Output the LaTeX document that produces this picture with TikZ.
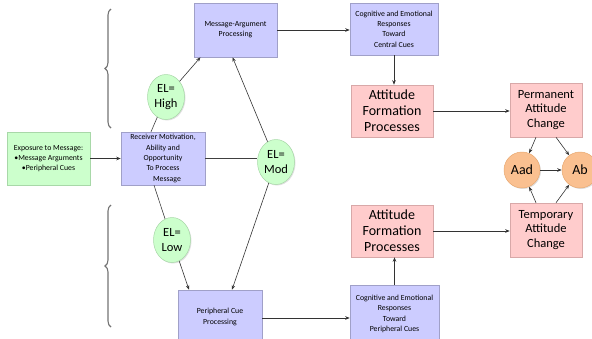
\documentclass[tikz,border=0pt]{standalone}
\usepackage{fontspec}
\setmainfont{Carlito}
\usetikzlibrary{arrows.meta,shapes.geometric,shadows,decorations.pathreplacing}
\definecolor{lav}{HTML}{CCCCFF}
\definecolor{lavline}{HTML}{A0A0C8}
\definecolor{lgreen}{HTML}{CCFFCC}
\definecolor{greenline}{HTML}{A8D8A8}
\definecolor{lpink}{HTML}{FFCCCC}
\definecolor{pinkline}{HTML}{D8A8A8}
\definecolor{lorange}{HTML}{FAC090}
\definecolor{orangeline}{HTML}{E8A870}
\tikzset{
  base/.style={draw, line width=0.5pt, align=center, inner sep=1pt,
    drop shadow={opacity=0.25, shadow xshift=1pt, shadow yshift=-1pt}},
  smallbox/.style={base, fill=lav, draw=lavline, font=\fontsize{7.8}{10.3}\selectfont},
  greenbox/.style={base, fill=lgreen, draw=greenline, font=\fontsize{7.8}{10.3}\selectfont},
  pinkbox/.style={base, fill=lpink, draw=pinkline, font=\fontsize{14}{16}\selectfont},
  pinkbox2/.style={base, fill=lpink, draw=pinkline, font=\fontsize{12.5}{14.5}\selectfont},
  elnode/.style={base, ellipse, fill=lgreen, draw=greenline, minimum width=37pt, minimum height=45pt, inner sep=0pt, font=\fontsize{12.5}{15}\selectfont},
  attnode/.style={base, circle, fill=lorange, draw=orangeline, minimum size=36pt, inner sep=0pt, font=\fontsize{14}{15}\selectfont},
  arr/.style={-{Stealth[length=4.5pt,width=3.5pt]}, line width=0.6pt, draw=black!80},
  ln/.style={line width=0.6pt, draw=black!75},
  bracestyle/.style={decorate, decoration={brace, amplitude=6pt}, draw=black!55, line width=1.1pt}
}
\begin{document}
\begin{tikzpicture}[x=1pt,y=-1pt]
\useasboundingbox (0,0) rectangle (592,338);
% boxes
\node[greenbox, minimum width=83pt, minimum height=53pt] (expo) at (48.5,158.5) {Exposure to Message:\\\textbullet Message Arguments\\\textbullet Peripheral Cues};
\node[smallbox, minimum width=84pt, minimum height=53pt] (recv) at (163,158.5) {Receiver Motivation,\\Ability and\\Opportunity\\To Process\\\hspace{8pt}Message};
\node[smallbox, minimum width=83pt, minimum height=54pt] (map) at (235.5,30) {Message-Argument\\Processing};
\node[smallbox, minimum width=88pt, minimum height=52pt] (cogc) at (394,29) {Cognitive and Emotional\\Responses\\Toward\\Central Cues};
\node[pinkbox, minimum width=82pt, minimum height=52pt] (af1) at (392,111) {Attitude\\Formation\\Processes};
\node[pinkbox, minimum width=82pt, minimum height=52pt] (af2) at (392,231) {Attitude\\Formation\\Processes};
\node[smallbox, minimum width=89pt, minimum height=58pt] (cogp) at (394.5,314) {Cognitive and Emotional\\Responses\\Toward\\Peripheral Cues};
\node[smallbox, minimum width=84pt, minimum height=54pt] (pcp) at (220,317) {Peripheral Cue\\Processing};
\node[pinkbox2, minimum width=72pt, minimum height=54pt] (perm) at (546,110) {Permanent\\Attitude\\Change};
\node[pinkbox2, minimum width=72pt, minimum height=54pt] (temp) at (546,230) {Temporary\\Attitude\\Change};
\node[attnode] (aad) at (522,170) {Aad};
\node[attnode] (ab) at (580,170) {Ab};
% EL nodes
\node[elnode] (elhigh) at (166,97) {EL=\\High};
\node[elnode] (elmod) at (276,162) {EL=\\Mod};
\node[elnode] (ellow) at (172,240) {EL=\\Low};
% connectors
\draw[arr] (expo.east) -- (recv.west);
\draw[ln] (recv.east) -- (recv.east -| elmod.west);
\draw[ln] ([xshift=-12pt]recv.north) -- (elhigh);
\draw[arr] (elhigh) -- ([xshift=-35pt]map.south);
\draw[arr] (elmod) -- ([xshift=-3pt]map.south);
\draw[ln] ([xshift=-9pt]recv.south) -- (ellow);
\draw[arr] (ellow) -- ([xshift=-31pt]pcp.north);
\draw[arr] (elmod) -- ([xshift=12pt]pcp.north);
\draw[arr] (map.east) -- (map.east -| cogc.west);
\draw[arr] (cogc.south) -- (cogc.south |- af1.north);
\draw[arr] (af1.east) -- (af1.east -| perm.west);
\draw[arr] ([yshift=-1pt]pcp.east) -- ([yshift=-1pt]pcp.east -| cogp.west);
\draw[arr] (cogp.north) -- (cogp.north |- af2.south);
\draw[arr] (af2.east) -- (af2.east -| temp.west);
\draw[arr] ([xshift=-10pt]perm.south) -- (aad);
\draw[arr] ([xshift=10pt]perm.south) -- (ab);
\draw[arr] (aad) -- (ab);
\draw[arr] ([xshift=-10pt]temp.north) -- (aad);
\draw[arr] ([xshift=10pt]temp.north) -- (ab);
% braces
\draw[bracestyle] (111,128) -- (111,9);
\draw[bracestyle] (111,327) -- (111,205);
\end{tikzpicture}
\end{document}
